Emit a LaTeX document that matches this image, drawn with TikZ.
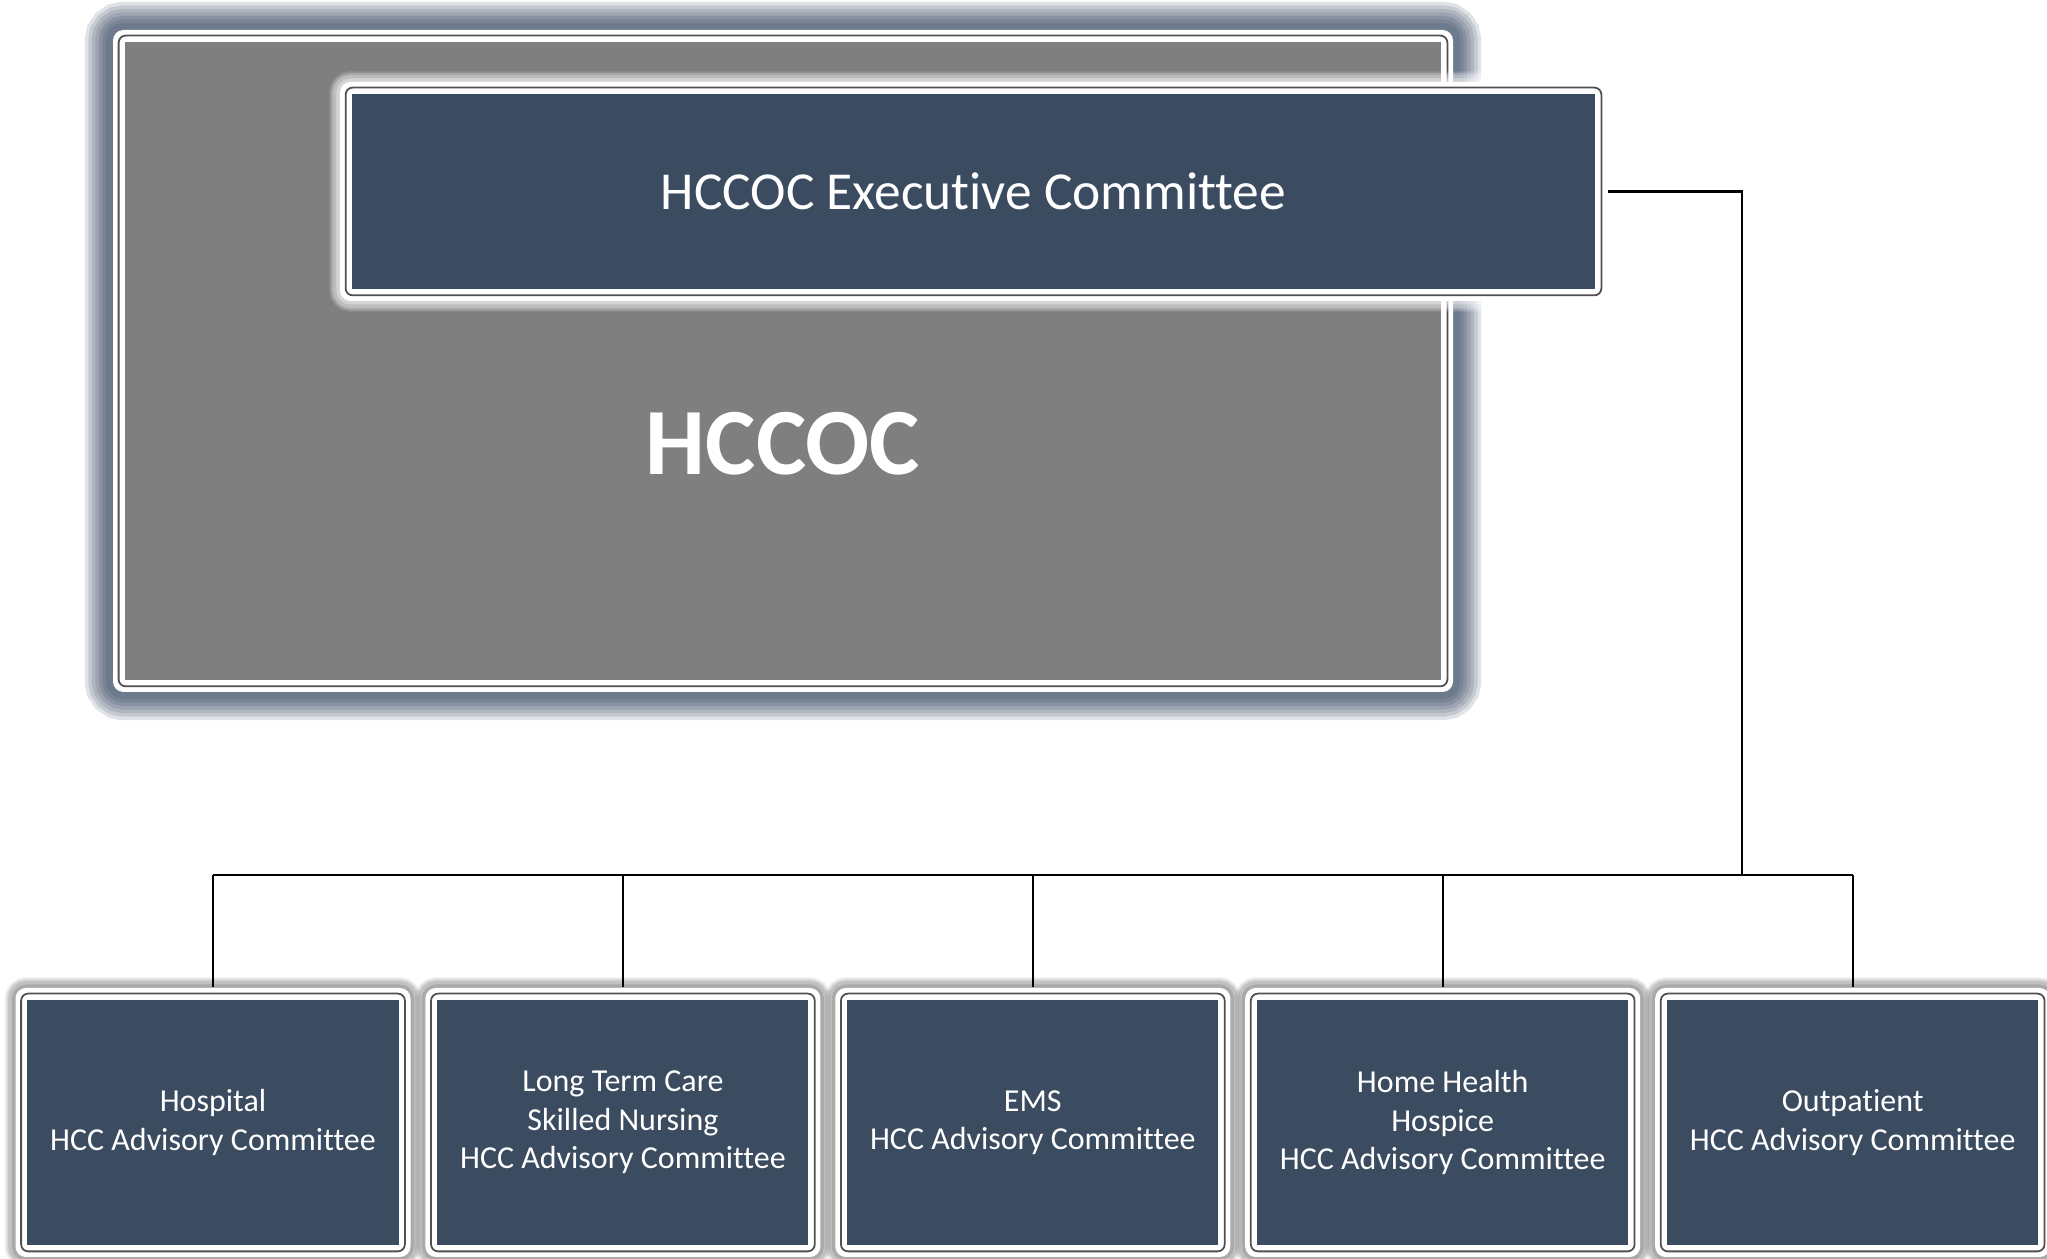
\documentclass[tikz,border=0pt]{standalone}
\usepackage{fontspec}
\setmainfont{Carlito}[Ligatures=NoCommon]
\usetikzlibrary{calc,positioning}

\definecolor{hccblue}{HTML}{3B4C61}
\definecolor{hccgray}{HTML}{7F7F7F}
\definecolor{hccglow}{HTML}{4F5F74}
\definecolor{rimline}{HTML}{505050}

\tikzset{
  % soft halo, stacked strokes under the node
  glow/.style={
    preaction={draw=#1, line width=16pt, opacity=.18},
    preaction={draw=#1, line width=14pt, opacity=.18},
    preaction={draw=#1, line width=12pt, opacity=.2},
    preaction={draw=#1, line width=10pt, opacity=.2},
    preaction={draw=#1, line width=8pt, opacity=.25},
    preaction={draw=#1, line width=6pt, opacity=.25},
    preaction={draw=#1, line width=4pt, opacity=.3}},
  softglow/.style={
    preaction={draw=#1, line width=6pt, opacity=.15},
    preaction={draw=#1, line width=5pt, opacity=.2},
    preaction={draw=#1, line width=4pt, opacity=.25},
    preaction={draw=#1, line width=2pt, opacity=.35}},
  % white rim, thin inner line, coloured face
  panel/.style={
    rectangle, rounded corners=3pt, fill=white, inner sep=0pt,
    text=white, align=center,
    path picture={
      \draw[rimline, line width=0.5pt, rounded corners=2pt]
        ([shift={(1.6pt,1.6pt)}]path picture bounding box.south west) rectangle
        ([shift={(-1.6pt,-1.6pt)}]path picture bounding box.north east);
      \fill[#1, sharp corners]
        ([shift={(3.4pt,3.4pt)}]path picture bounding box.south west) rectangle
        ([shift={(-3.4pt,-3.4pt)}]path picture bounding box.north east);
    }},
  unit/.style={panel=hccblue, softglow=gray,
    minimum width=3.95cm, minimum height=2.69cm,
    font=\fontsize{9.1}{10.9}\selectfont},
  link/.style={draw=black, line width=0.6pt},
}

\begin{document}
\begin{tikzpicture}
    \useasboundingbox (0,0) rectangle (20.47,12.59);

    % Coalition and its executive committee
    \node[panel=hccgray, glow=hccglow, minimum width=13.4cm, minimum height=6.62cm]
        (hccoc) at (7.83,8.98) {};
    \node[text=white, font=\fontsize{27}{31}\selectfont\bfseries]
        (hccoclbl) at ([yshift=-8.3mm]hccoc.center) {HCCOC};
    \node[panel=hccblue, softglow=white, minimum width=12.67cm, minimum height=2.19cm,
        anchor=north west, font=\fontsize{15.2}{18}\selectfont]
        (exec) at ([shift={(2.27,-0.52)}]hccoc.north west) {HCCOC Executive Committee};

    % Advisory committees
    \node[unit] (hosp) at (2.13,1.365) {Hospital\\HCC Advisory Committee};
    \node[unit, right=1.35mm of hosp] (ltc) {Long Term Care\\Skilled Nursing\\HCC Advisory Committee};
    \node[unit, right=1.35mm of ltc] (ems) {EMS\\HCC Advisory Committee};
    \node[unit, right=1.35mm of ems] (home) {Home Health\\Hospice\\HCC Advisory Committee};
    \node[unit, right=1.35mm of home] (outp) {Outpatient\\HCC Advisory Committee};

    % Reporting lines
    \coordinate (elbow) at (17.42,3.84);
    \draw[link] (exec.east) -| (elbow);
    \draw[link] (hosp |- elbow) -- (outp |- elbow);
    \foreach \n in {hosp,ltc,ems,home,outp}
        \draw[link] (\n |- elbow) -- (\n.north);

\end{tikzpicture}
\end{document}
